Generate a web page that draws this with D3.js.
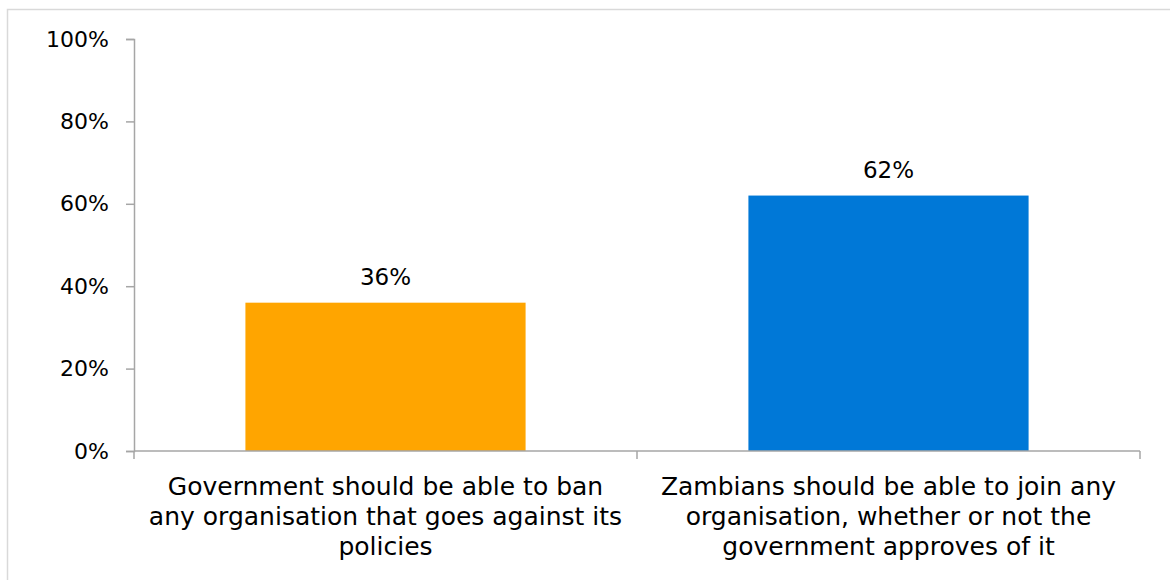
<!DOCTYPE html>
<html>
<head>
<meta charset="utf-8">
<script src="https://cdn.jsdelivr.net/npm/d3@7"></script>
<style>
  body { margin: 0; background: #fff; }
  text { font-family: "DejaVu Sans", sans-serif; fill: #000; }
</style>
</head>
<body>
<script>
const categories = [
  ["Government should be able to ban", "any organisation that goes against its", "policies"],
  ["Zambians should be able to join any", "organisation, whether or not the", "government approves of it"]
];
const values = [36, 62];
const barColors = ["#FFA500", "#0078D7"];
const yTicks = [0, 20, 40, 60, 80, 100];

const width = 1170, height = 580;
const margin = {left: 134, right: 30, top: 39, bottom: 129};

const svg = d3.select("body").append("svg")
  .attr("width", width).attr("height", height);

// chart frame
svg.append("rect")
  .attr("x", 7.5).attr("y", 9.5)
  .attr("width", width + 10).attr("height", height + 10)
  .attr("fill", "none").attr("stroke", "#d9d9d9").attr("stroke-width", 1.5);

const x = d3.scaleBand()
  .domain(d3.range(values.length))
  .range([margin.left, width - margin.right])
  .paddingInner(0.443).paddingOuter(0.2215);

const y = d3.scaleLinear()
  .domain([0, 100])
  .range([height - margin.bottom, margin.top]);

// bars
svg.selectAll(".bar")
  .data(values)
  .enter().append("rect")
  .attr("class", "bar")
  .attr("x", (d, i) => x(i))
  .attr("y", d => y(d))
  .attr("width", x.bandwidth())
  .attr("height", d => y(0) - y(d))
  .attr("fill", (d, i) => barColors[i]);

// value labels
svg.selectAll(".val")
  .data(values)
  .enter().append("text")
  .attr("class", "val")
  .attr("x", (d, i) => x(i) + x.bandwidth() / 2)
  .attr("y", d => y(d) - 18)
  .attr("text-anchor", "middle")
  .style("font-size", "23px")
  .text(d => d + "%");

// y axis
const yAxis = svg.append("g")
  .attr("transform", `translate(${margin.left},0)`)
  .call(d3.axisLeft(y).tickValues(yTicks).tickFormat(d => d + "%").tickSize(8).tickPadding(17));
yAxis.select(".domain").attr("stroke", "#a6a6a6").attr("stroke-width", 1.5);
yAxis.selectAll(".tick line").attr("stroke", "#a6a6a6").attr("stroke-width", 1.5);
yAxis.selectAll(".tick text")
  .style("font-size", "22px")
  .style("font-family", "'DejaVu Sans', sans-serif")
  .attr("fill", "#000");

// x axis line with boundary ticks
const boundaries = d3.range(values.length + 1).map(i => margin.left + i * (width - margin.right - margin.left) / values.length);
svg.append("line")
  .attr("x1", margin.left).attr("x2", width - margin.right)
  .attr("y1", y(0)).attr("y2", y(0))
  .attr("stroke", "#a6a6a6").attr("stroke-width", 1.5);
svg.selectAll(".xtick")
  .data(boundaries)
  .enter().append("line")
  .attr("x1", d => d).attr("x2", d => d)
  .attr("y1", y(0)).attr("y2", y(0) + 8)
  .attr("stroke", "#a6a6a6").attr("stroke-width", 1.5);

// category labels
const cat = svg.selectAll(".cat")
  .data(categories)
  .enter().append("text")
  .attr("class", "cat")
  .attr("text-anchor", "middle")
  .style("font-size", "25px")
  .attr("x", (d, i) => x(i) + x.bandwidth() / 2)
  .attr("y", y(0) + 44);
cat.selectAll("tspan")
  .data(d => d)
  .enter().append("tspan")
  .attr("x", function() { return this.parentNode.getAttribute("x"); })
  .attr("dy", (d, i) => i === 0 ? 0 : 30)
  .text(d => d);
</script>
</body>
</html>
